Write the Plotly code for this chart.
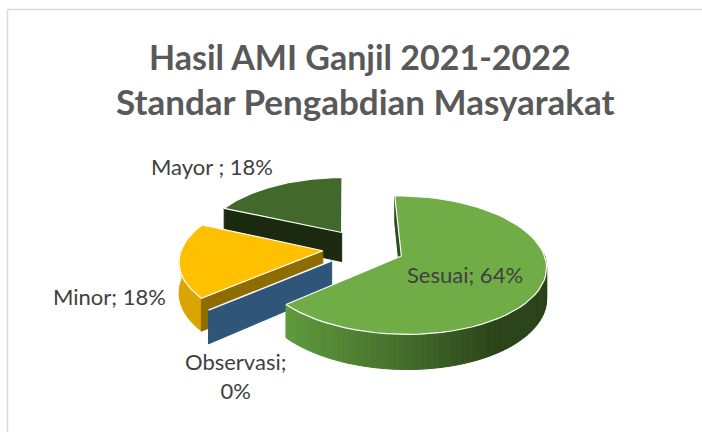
import math
import plotly.graph_objects as go

categories = ["Sesuai", "Observasi", "Minor", "Mayor"]
values = [64, 0, 18, 18]
labels = ["Sesuai; 64%", "Observasi;<br>0%", "Minor; 18%", "Mayor ; 18%"]
title_lines = ["Hasil AMI Ganjil 2021-2022", "Standar Pengabdian Masyarakat"]

top_colors = ["#70AD47", "#2F5578", "#FFC000", "#43682B"]
front_colors = ["#2F4A1C", "#2F5578", "#8F6C00", "#1B2A0F"]
arc_colors = [None, None, "#DBA400", None]

START = -1.0
EXPLODE = 0.29
CX, CY, FX, FY, KP, DEPTH = 363.5, 248.0, 141.0, 66.0, 0.13, 30.0


def proj(theta, phi, r=1.0, z=0.0):
    t, p = math.radians(theta), math.radians(phi)
    u = r * math.sin(t) + EXPLODE * math.sin(p)
    v = r * math.cos(t) + EXPLODE * math.cos(p)
    s = 1 / (1 + KP * v)
    return CX + FX * u * s, CY - FY * v * s + z * s


def poly(fig, pts, fill, line=None, width=0):
    xs = [a for a, _ in pts] + [pts[0][0]]
    ys = [b for _, b in pts] + [pts[0][1]]
    fig.add_trace(go.Scatter(
        x=xs, y=ys, mode="lines", fill="toself", fillcolor=fill,
        line=dict(color=line or fill, width=width if line else 1.0),
        hoverinfo="skip", showlegend=False))


def arc(a0, a1, phi, z=0.0, n=60):
    return [proj(a0 + (a1 - a0) * i / n, phi, 1.0, z) for i in range(n + 1)]


def mix(c0, c1, t):
    a = [int(c0[i:i + 2], 16) for i in (1, 3, 5)]
    b = [int(c1[i:i + 2], 16) for i in (1, 3, 5)]
    return "#%02x%02x%02x" % tuple(round(x + (y - x) * t) for x, y in zip(a, b))


def sesuai_shade(x):
    if x < 400:
        return mix("#5F9A3C", "#456F2C", max(0, (x - 287) / 113))
    return mix("#456F2C", "#2B4419", min(1, (x - 400) / 95))


# angular spans from the values
spans = []
cur = START
for v in values:
    a0, a1 = cur, cur + v * 3.6
    spans.append((a0, a1, (a0 + a1) / 2))
    cur = a1

fig = go.Figure()

# Mayor (back-most), then Minor, Observasi, Sesuai
for idx in [3, 2, 1, 0]:
    a0, a1, phi = spans[idx]
    apex = proj(0, phi, 0.0)
    apex_b = proj(0, phi, 0.0, DEPTH)
    if idx == 0:
        # outer wall with a horizontal shading
        end = a1
        steps = 70
        for i in range(steps):
            b0 = 88 + (end - 88) * i / steps
            b1 = 88 + (end - 88) * (i + 1) / steps
            p0, p1 = proj(b0, phi), proj(b1, phi)
            q0, q1 = proj(b0, phi, 1.0, DEPTH), proj(b1, phi, 1.0, DEPTH)
            poly(fig, [p0, p1, q1, q0], sesuai_shade((p0[0] + p1[0]) / 2))
        # inner wall at the start edge
        poly(fig, [proj(a0, phi), apex, apex_b, proj(a0, phi, 1.0, DEPTH)], front_colors[0])
    elif idx == 1:
        poly(fig, [apex, proj(a0, phi), proj(a0, phi, 1.0, DEPTH), apex_b], front_colors[1])
        xs = [apex[0], proj(a0, phi)[0]]
        ys = [apex[1], proj(a0, phi)[1]]
        fig.add_trace(go.Scatter(x=xs, y=ys, mode="lines", line=dict(color="white", width=1.4),
                                 hoverinfo="skip", showlegend=False))
        continue
    else:
        if idx == 2:
            poly(fig, arc(a0, 272, phi) + arc(272, a0, phi, DEPTH)[0:], arc_colors[2])
        poly(fig, [apex, proj(a0, phi), proj(a0, phi, 1.0, DEPTH), apex_b], front_colors[idx])
    top = [apex] + arc(a0, a1, phi)
    poly(fig, top, top_colors[idx], line="white", width=1.2)

# data labels
label_pos = [(465, 274), (235, 376), (109, 296), (212, 166)]
for text, (lx, ly) in zip(labels, label_pos):
    fig.add_annotation(x=lx, y=ly, xref="x", yref="y", text=text, showarrow=False,
                       font=dict(family="Lato", size=22, color="#404040"), align="center")

# title lines
title_pos = [(360, 56, 34), (365.5, 101, 35)]
for text, (tx, ty, ts) in zip(title_lines, title_pos):
    fig.add_annotation(x=tx, y=ty, xref="x", yref="y", text="<b>" + text + "</b>", showarrow=False,
                       font=dict(family="Lato", size=ts, color="#595959"))

fig.update_layout(
    width=702, height=432, margin=dict(l=0, r=0, t=0, b=0),
    paper_bgcolor="white", plot_bgcolor="white", showlegend=False,
    xaxis=dict(range=[0, 702], visible=False, fixedrange=True),
    yaxis=dict(range=[432, 0], visible=False, fixedrange=True),
    shapes=[
        dict(type="line", xref="x", yref="y", x0=7.5, x1=702, y0=9.5, y1=9.5,
             line=dict(color="#D9D9D9", width=1.5)),
        dict(type="line", xref="x", yref="y", x0=7.5, x1=7.5, y0=9.5, y1=432,
             line=dict(color="#D9D9D9", width=1.5)),
    ],
)

fig.write_html("out.html", config={"displayModeBar": False},
               post_script="document.body.style.margin='0';document.body.style.overflow='hidden';")
